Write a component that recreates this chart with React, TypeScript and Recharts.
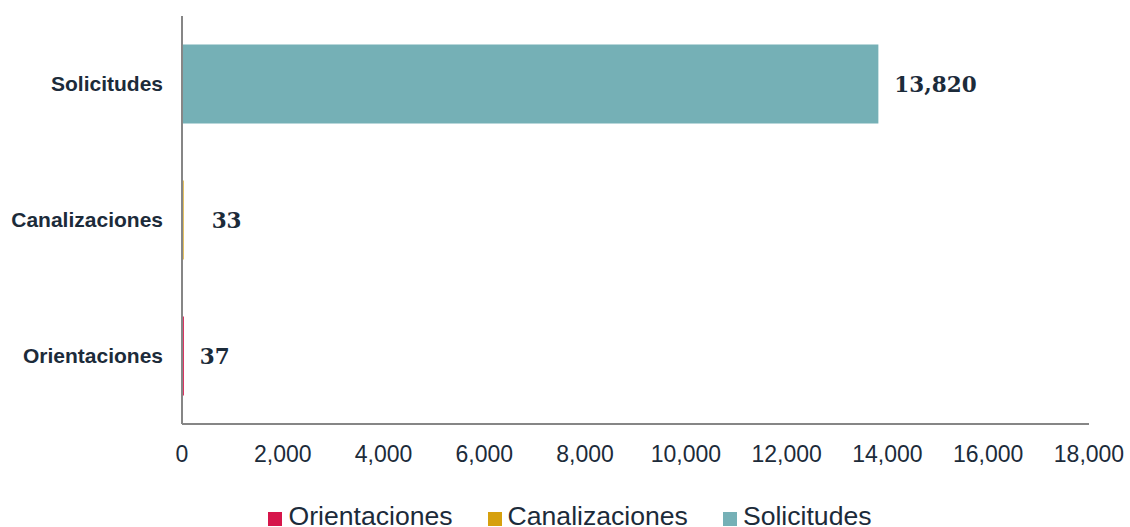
import { BarChart, Bar, XAxis, YAxis, LabelList } from 'recharts';

const categories = ['Solicitudes', 'Canalizaciones', 'Orientaciones'];
const orientaciones = [0, 0, 37];
const canalizaciones = [0, 33, 0];
const solicitudes = [13820, 0, 0];
const xTicks = [0, 2000, 4000, 6000, 8000, 10000, 12000, 14000, 16000, 18000];

const series = [
  { key: 'Orientaciones', color: '#d6164b', offset: 16 },
  { key: 'Canalizaciones', color: '#d6a00e', offset: 28 },
  { key: 'Solicitudes', color: '#75b0b6', offset: 16 },
];

const chartData = categories.map((name, i) => ({
  name,
  Orientaciones: orientaciones[i],
  Canalizaciones: canalizaciones[i],
  Solicitudes: solicitudes[i],
}));

const textColor = '#1c2b3a';

// value label next to the bar end, skipped for the zero-filled stack slots
const makeLabel = (offset: number) => (props: any) => {
  const { x, y, width, height, value } = props;
  if (!value) return null;
  return (
    <text
      x={Number(x) + Number(width) + offset}
      y={Number(y) + Number(height) / 2}
      dominantBaseline="central"
      fill={textColor}
      fontFamily="'DejaVu Serif', serif"
      fontWeight="bold"
      fontSize={21.5}
    >
      {Number(value).toLocaleString('en-US')}
    </text>
  );
};

const App = () => {
  return (
    <div style={{ position: 'absolute', left: 0, top: 0, width: 1130, height: 527, background: '#fff', overflow: 'hidden' }}>
      <BarChart
        layout="vertical"
        width={1130}
        height={500}
        data={chartData}
        margin={{ top: 16, right: 41, left: 0, bottom: 0 }}
        barCategoryGap="21%"
      >
        <XAxis
          type="number"
          domain={[0, 18000]}
          ticks={xTicks}
          tickFormatter={(v) => v.toLocaleString('en-US')}
          axisLine={{ stroke: '#868686', strokeWidth: 2 }}
          tickLine={false}
          tickSize={0}
          tickMargin={22}
          height={76}
          tick={{ fill: textColor, fontFamily: 'Arial, Liberation Sans, sans-serif', fontSize: 23 }}
          interval={0}
        />
        <YAxis
          type="category"
          dataKey="name"
          width={182}
          axisLine={{ stroke: '#868686', strokeWidth: 2 }}
          tickLine={false}
          tickSize={0}
          tickMargin={19}
          tick={{ fill: textColor, fontFamily: 'Arial, Liberation Sans, sans-serif', fontSize: 21, fontWeight: 'bold' }}
        />
        {series.map((s) => (
          <Bar key={s.key} dataKey={s.key} stackId="a" fill={s.color} isAnimationActive={false}>
            <LabelList dataKey={s.key} content={makeLabel(s.offset)} />
          </Bar>
        ))}
      </BarChart>
      {/* Legend */}
      <div
        style={{
          position: 'absolute',
          left: 0,
          top: 503,
          width: 1130,
          paddingLeft: 10,
          boxSizing: 'border-box',
          display: 'flex',
          justifyContent: 'center',
          gap: 35,
          fontFamily: 'Arial, Liberation Sans, sans-serif',
          fontSize: 26.6,
          color: textColor,
          lineHeight: '27px',
          whiteSpace: 'nowrap',
        }}
      >
        {series.map((s) => (
          <div key={s.key} style={{ display: 'flex', alignItems: 'center', gap: 6 }}>
            <span style={{ display: 'inline-block', width: 14, height: 14, background: s.color, position: 'relative', top: 2 }} />
            <span>{s.key}</span>
          </div>
        ))}
      </div>
    </div>
  );
};

export default App;
